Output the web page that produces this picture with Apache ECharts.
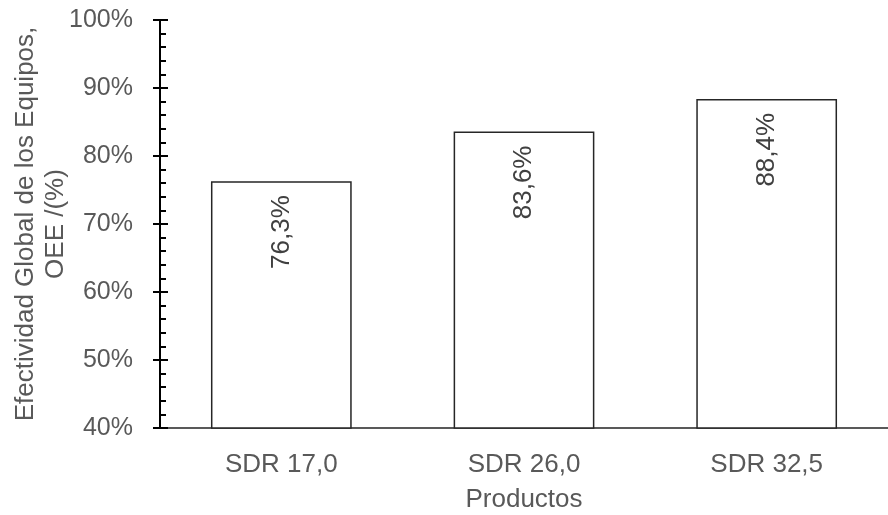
<!DOCTYPE html>
<html>
<head>
<meta charset="utf-8">
<script src="https://cdn.jsdelivr.net/npm/echarts@6/dist/echarts.min.js"></script>
<style>
  html, body { margin: 0; padding: 0; background: #fff; }
  #chart { width: 888px; height: 515px; }
</style>
</head>
<body>
<div id="chart"></div>
<script>
// 数据
var categories = ['SDR 17,0', 'SDR 26,0', 'SDR 32,5'];
var oeeValues = [76.3, 83.6, 88.4];
var yMin = 40, yMax = 100, yStep = 10;

var font = '"Liberation Sans", Arial, sans-serif';
var grey = '#595959';

var chart = echarts.init(document.getElementById('chart'));
chart.setOption({
  animation: false,
  grid: {
    left: 160,
    right: 0,
    top: 20,
    bottom: 87,
    outerBoundsMode: 'none'
  },
  xAxis: {
    type: 'category',
    data: categories,
    name: 'Productos',
    nameLocation: 'middle',
    nameGap: 59,
    nameMoveOverlap: false,
    nameTextStyle: { color: grey, fontSize: 26, fontFamily: font },
    axisLine: { lineStyle: { color: '#595959', width: 2 } },
    axisTick: { show: false },
    axisLabel: { color: grey, fontSize: 26, fontFamily: font, margin: 24 }
  },
  yAxis: [
    {
      type: 'value',
      min: yMin,
      max: yMax,
      interval: yStep,
      name: 'Efectividad Global de los Equipos,\nOEE /(%)',
      nameLocation: 'middle',
      nameGap: 89,
      nameMoveOverlap: false,
      nameTextStyle: { color: grey, fontSize: 26, fontFamily: font, lineHeight: 30 },
      axisLine: { show: true, lineStyle: { color: '#000', width: 2 } },
      axisTick: { show: true, inside: true, length: 8, lineStyle: { color: '#000', width: 2 } },
      minorTick: { show: true, splitNumber: 5, length: 6, lineStyle: { color: '#000', width: 2 } },
      splitLine: { show: false },
      axisLabel: {
        color: grey, fontSize: 25, fontFamily: font, margin: 27,
        formatter: function (v) { return v + '%'; }
      }
    },
    {
      // 外侧刻度
      type: 'value',
      position: 'left',
      min: yMin,
      max: yMax,
      interval: yStep,
      axisLine: { show: false },
      axisTick: { show: true, inside: false, length: 7, lineStyle: { color: '#000', width: 2 } },
      axisLabel: { show: false },
      splitLine: { show: false }
    }
  ],
  series: [
    {
      type: 'bar',
      data: oeeValues,
      barWidth: '58%',
      itemStyle: {
        color: '#fff',
        borderColor: '#262626',
        borderWidth: 1.5
      },
      label: {
        show: true,
        position: 'insideTop',
        rotate: 90,
        align: 'right',
        verticalAlign: 'middle',
        distance: 14,
        color: '#404040',
        fontSize: 26,
        fontFamily: font,
        formatter: function (p) { return p.value.toFixed(1).replace('.', ',') + '%'; }
      }
    }
  ]
});
</script>
</body>
</html>
